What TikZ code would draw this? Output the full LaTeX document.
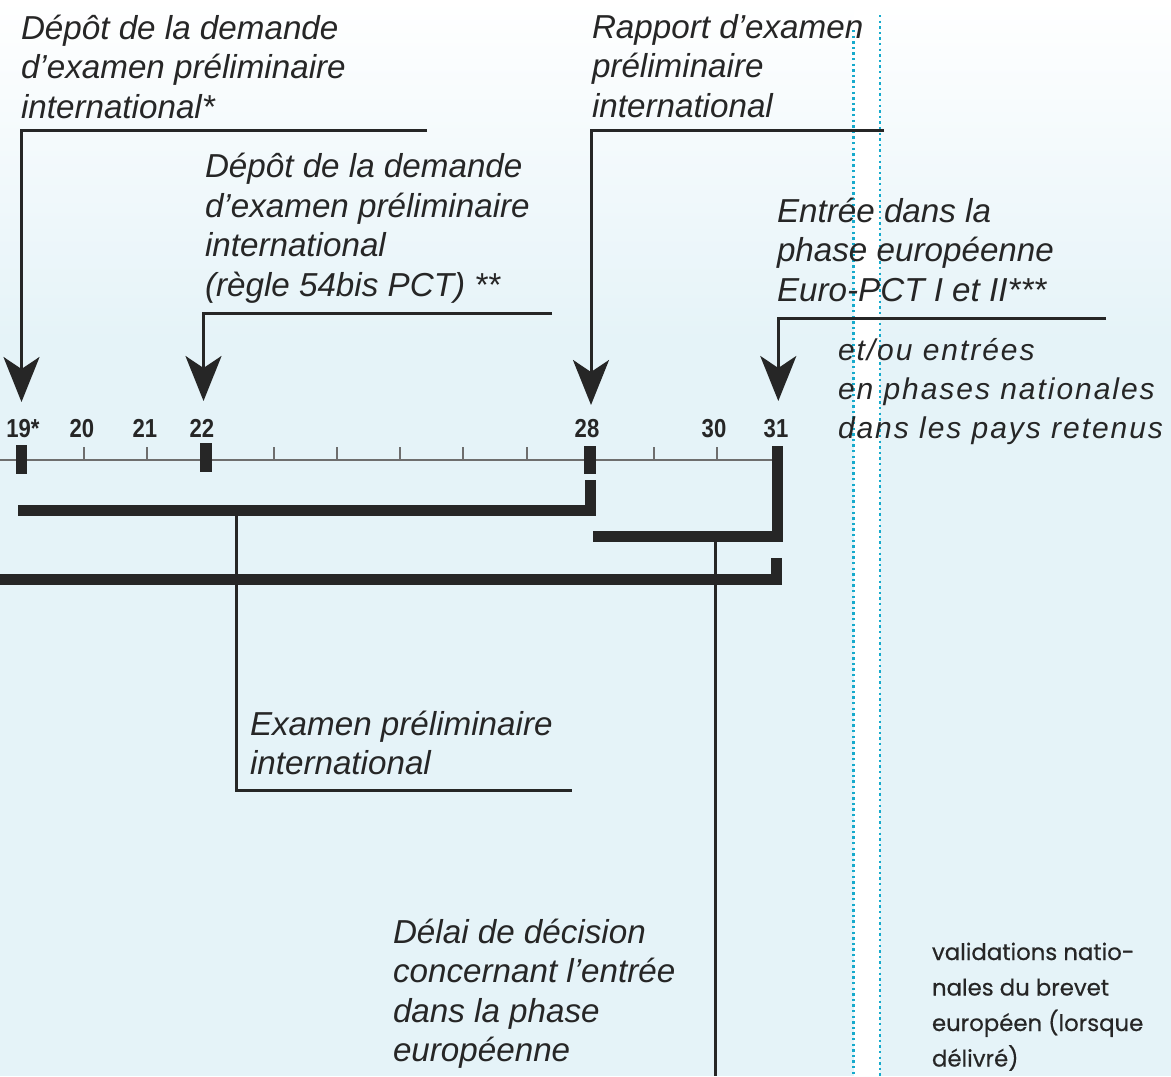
\documentclass[tikz,border=0pt]{standalone}
\usepackage{fontspec}
\setmainfont{Liberation Sans}
\newfontfamily\geofont[FakeBold=0.5]{Poppins}
\newfontfamily\spacedfont[LetterSpace=6.5]{Liberation Sans}
\usetikzlibrary{arrows.meta}
\definecolor{bg}{HTML}{E5F3F8}
\definecolor{ink}{HTML}{262626}
\definecolor{axisc}{HTML}{6E6E6E}
\definecolor{dotc}{HTML}{16AACC}
\begin{document}
\begin{tikzpicture}[x=0.5pt,y=-0.5pt,
  lbl/.style={anchor=north west, inner sep=0pt, outer sep=0pt, align=left, text=ink,
    font=\fontsize{16.6}{19.75}\selectfont\itshape},
  lblE/.style={anchor=north west, inner sep=0pt, outer sep=0pt, align=left, text=ink,
    font=\spacedfont\fontsize{15}{19.5}\selectfont\itshape},
  lblH/.style={anchor=north west, inner sep=0pt, outer sep=0pt, align=left, text=ink,
    font=\geofont\fontsize{11.4}{17.75}\selectfont},
  num/.style={anchor=base, inner sep=0pt, text=ink, xscale=0.85,
    font=\fontsize{13}{14}\selectfont\bfseries},
  conn/.style={draw=ink, line width=1.5pt},
  arr/.style={conn, -{Stealth[length=22.5pt,width=18pt,inset=6pt]}},
  bar/.style={draw=ink, line width=5.5pt, line cap=butt, line join=miter},
  tickblk/.style={fill=ink},
  axisline/.style={draw=axisc, line width=1pt},
  dotline/.style={draw=dotc, line width=1.2pt, dash pattern=on 1.2pt off 1.6pt}
]
\useasboundingbox (0,0) rectangle (1171,1076);
% background
\fill[bg] (0,0) rectangle (1171,1076);
\shade[top color=white, bottom color=bg] (0,0) rectangle (1171,340);
\fill[white] (854,0) rectangle (880,1076);
\draw[dotline] (853.5,30) -- (853.5,1076);
\draw[dotline] (880,15) -- (880,1076);

% axis
\draw[axisline] (0,460) -- (772,460);
\foreach \x in {84,147.3,274,337,400,463.3,526.7,654,716.7}
  \draw[axisline] (\x,447) -- (\x,460);
\fill[tickblk] (15.7,445) rectangle (26.7,474);
\fill[tickblk] (200,443) rectangle (212,472);
\fill[tickblk] (584,446) rectangle (596,474);

% month labels
\node[num] (n19) at (23,437) {19*};
\node[num] (n20) at (82,437) {20};
\node[num] (n21) at (145,437) {21};
\node[num] (n22) at (202,437) {22};
\node[num] (n28) at (587,437) {28};
\node[num] (n30) at (714,437) {30};
\node[num] (n31) at (776,437) {31};

% bars
\draw[bar] (18,510.5) -- (590,510.5) -- (590,480);
\draw[bar] (593,536.5) -- (777.5,536.5) -- (777.5,446);
\draw[bar] (0,579.5) -- (776.5,579.5) -- (776.5,558);

% top labels
\node[lbl] (la) at (21,11.35) {\strut Dépôt de la demande\\d’examen préliminaire\\international*};
\node[lbl] (lb) at (205,149.85) {\strut Dépôt de la demande\\d’examen préliminaire\\international\\(règle 54bis PCT) **};
\node[lbl] (lc) at (592,10.35) {\strut Rapport d’examen\\préliminaire\\international};
\node[lbl] (ld) at (777,194.35) {\strut Entrée dans la\\phase européenne\\Euro-PCT I et II***};
\node[lblE] (le) at (838,332.7) {\strut et/ou entrées\\en phases nationales\\dans les pays retenus};

% arrows
\coordinate (a0) at (427,130.5);
\coordinate (a1) at (21.5,130.5);
\coordinate (a2) at (21.5,402);
\draw[arr] (a0) -- (a1) -- (a2);
\coordinate (b0) at (552,313.3);
\coordinate (b1) at (203.5,313.3);
\coordinate (b2) at (203.5,401);
\draw[arr] (b0) -- (b1) -- (b2);
\coordinate (c0) at (884,130.5);
\coordinate (c1) at (591,130.5);
\coordinate (c2) at (591,405);
\draw[arr] (c0) -- (c1) -- (c2);
\coordinate (d0) at (1106,318.5);
\coordinate (d1) at (778.3,318.5);
\coordinate (d2) at (778.3,401);
\draw[arr] (d0) -- (d1) -- (d2);

% lower labels
\node[lbl] (lf) at (250,707.35) {\strut Examen préliminaire\\international};
\coordinate (f0) at (236.5,516);
\coordinate (f1) at (236.5,790);
\coordinate (f2) at (571.5,790);
\draw[conn] (f0) -- (f1) -- (f2);

\node[lbl] (lg) at (393,915.35) {\strut Délai de décision\\concernant l’entrée\\dans la phase\\européenne};
\coordinate (g0) at (715,542);
\coordinate (g1) at (715,1076);
\draw[conn] (g0) -- (g1);

\node[lblH] (lh) at (932,935.15) {\strut validations natio-\\nales du brevet\\européen (lorsque\\délivré)};
\end{tikzpicture}
\end{document}
